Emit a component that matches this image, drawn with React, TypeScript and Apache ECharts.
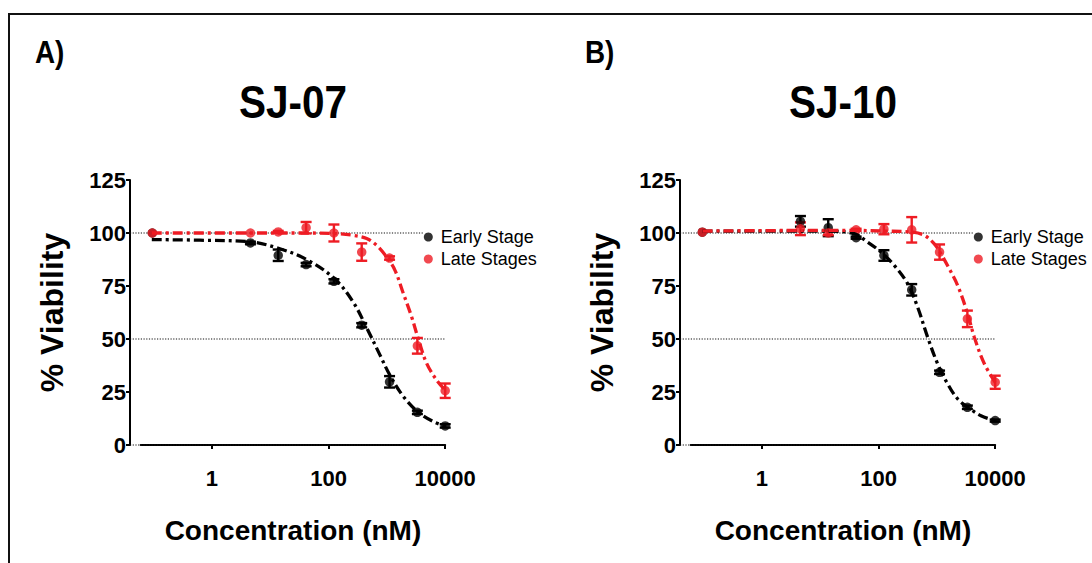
import React, { useEffect, useRef } from 'react';
import * as echarts from 'echarts';

// ---------- data ----------
const concentrations = [0.095, 4.57, 13.7, 41.2, 123.5, 370, 1111, 3333, 10000];
const xTickValues = [1, 100, 10000];
const referenceLines = [0, 50, 100];
const seriesNames = ['Early Stage', 'Late Stages'];

// SJ-07
const sj07EarlyMean = [100, 95.3, 89.5, 85.1, 77.2, 56.5, 29.8, 15.4, 9.0];
const sj07EarlyErr = [0, 0.6, 2.7, 0.8, 1.0, 1.0, 2.7, 0.8, 0.8];
const sj07LateMean = [100, 100, 100.5, 102.5, 100, 91, 88.2, 46.8, 25.6];
const sj07LateErr = [0, 0, 0.5, 2.7, 4.0, 4.1, 0.8, 3.7, 3.4];
const sj07EarlyFitX = [0.093, 0.62, 4.6, 13.8, 42, 126, 263, 447, 759, 1122, 1905, 3388, 6310, 10000];
const sj07EarlyFitY = [96.9, 96.6, 95.8, 92.8, 87.5, 78.5, 67.5, 55.5, 42.5, 33, 23, 15.7, 11, 8.9];
const sj07LateFitX = [0.093, 4.6, 42, 129, 265, 450, 668, 991, 1377, 1914, 2661, 3459, 4808, 7129, 10000];
const sj07LateFitY = [100, 100, 100, 99.7, 98.9, 97.4, 94.2, 88.7, 82.4, 71.5, 60.4, 50, 38.5, 30.6, 25.9];

// SJ-10
const sj10EarlyMean = [100.4, 105.5, 102.5, 97.8, 89.4, 73.2, 34.3, 17.8, 11.5];
const sj10EarlyErr = [0, 2.5, 4, 0.5, 2.5, 2.7, 0.8, 0.8, 0.5];
const sj10LateMean = [100.4, 102, 100, 101.5, 101.8, 101.5, 91, 59.5, 29.6];
const sj10LateErr = [0, 3, 1, 0.5, 2.4, 6, 3.6, 3.9, 3.1];
const sj10EarlyFitX = [0.096, 13.4, 38, 65, 110, 186, 315, 468, 695, 1030, 1531, 2275, 3373, 5702, 10000];
const sj10EarlyFitY = [100.9, 100.9, 99.7, 95.7, 91.0, 84.7, 76.1, 65.0, 50.8, 38.3, 28.8, 21.7, 17.8, 13.8, 11.5];
const sj10LateFitX = [0.096, 4.67, 41, 125, 385, 608, 903, 1175, 1633, 2275, 3373, 4385, 6516, 10000];
const sj10LateFitY = [100.9, 101.2, 101.2, 100.9, 100.4, 98.9, 94.9, 90.2, 83.1, 75.2, 61.9, 50.8, 38.3, 29.6];

const FONT = '"Liberation Sans", Arial, Helvetica, sans-serif';
const BLACK = '#000000';
const RED = '#ee1c24';

const panels = [
  {
    letter: 'A)', title: 'SJ-07', off: 0,
    earlyMean: sj07EarlyMean, earlyErr: sj07EarlyErr, lateMean: sj07LateMean, lateErr: sj07LateErr,
    earlyFitX: sj07EarlyFitX, earlyFitY: sj07EarlyFitY, lateFitX: sj07LateFitX, lateFitY: sj07LateFitY,
  },
  {
    letter: 'B)', title: 'SJ-10', off: 550,
    earlyMean: sj10EarlyMean, earlyErr: sj10EarlyErr, lateMean: sj10LateMean, lateErr: sj10LateErr,
    earlyFitX: sj10EarlyFitX, earlyFitY: sj10EarlyFitY, lateFitX: sj10LateFitX, lateFitY: sj10LateFitY,
  },
];

function zip(xs: number[], ys: number[]) {
  return xs.map((x, i) => [x, ys[i]]);
}

function errorSeries(xs: number[], means: number[], errs: number[], color: string, xi: number, yi: number) {
  const data: number[][] = [];
  xs.forEach((x, i) => {
    if (errs[i] > 0) data.push([x, means[i] - errs[i], means[i] + errs[i]]);
  });
  return {
    type: 'custom',
    xAxisIndex: xi,
    yAxisIndex: yi,
    silent: true,
    clip: false,
    encode: { x: 0, y: [1, 2] },
    data,
    renderItem: (_p: any, api: any) => {
      const lo = api.coord([api.value(0), api.value(1)]);
      const hi = api.coord([api.value(0), api.value(2)]);
      const w = 5.5;
      const st = { stroke: color, lineWidth: 2.4 };
      return {
        type: 'group',
        children: [
          { type: 'line', shape: { x1: lo[0], y1: lo[1], x2: hi[0], y2: hi[1] }, style: st },
          { type: 'line', shape: { x1: lo[0] - w, y1: lo[1], x2: lo[0] + w, y2: lo[1] }, style: st },
          { type: 'line', shape: { x1: hi[0] - w, y1: hi[1], x2: hi[0] + w, y2: hi[1] }, style: st },
        ],
      };
    },
  };
}

// dotted reference lines (0, 50, 100) spanning from the y axis to the right end of the plot
function refLineSeries(xi: number, yi: number) {
  return {
    type: 'custom',
    xAxisIndex: xi,
    yAxisIndex: yi,
    silent: true,
    clip: false,
    z: 1,
    encode: { y: 0 },
    data: referenceLines.map((v) => [v]),
    renderItem: (_p: any, api: any) => {
      const a = api.coord([0, api.value(0)]);
      const b = api.coord([1, api.value(0)]);
      return {
        type: 'line',
        shape: { x1: a[0], y1: a[1], x2: b[0], y2: b[1] },
        style: { stroke: '#111111', lineWidth: 1.2, lineDash: [1.2, 1.5] },
      };
    },
  };
}

function buildOption() {
  const grid: any[] = [];
  const xAxis: any[] = [];
  const yAxis: any[] = [];
  const series: any[] = [];
  const legend: any[] = [];
  const graphic: any[] = [
    {
      type: 'rect', shape: { x: 9, y: 14, width: 1200, height: 700 },
      style: { fill: 'none', stroke: '#111', lineWidth: 2 }, z: 0,
    },
  ];

  panels.forEach((p, k) => {
    const gA = k * 2;
    const gB = k * 2 + 1;
    // grid A: y axis + dotted reference lines
    grid.push({ left: 130 + p.off, top: 180, width: 315, height: 265 });
    // grid B: data + x axis
    grid.push({ left: 140.7 + p.off, top: 180, width: 304.5, height: 265 });

    xAxis.push({ gridIndex: gA, type: 'value', min: 0, max: 1, show: false });
    xAxis.push({
      gridIndex: gB, type: 'log', logBase: 10, min: 0.06, max: 10000,
      position: 'bottom', offset: 12,
      axisLine: { show: true, lineStyle: { color: BLACK, width: 2 } },
      axisTick: { show: true, length: 4, inside: false, lineStyle: { color: BLACK, width: 2 }, customValues: xTickValues },
      axisLabel: {
        customValues: xTickValues, margin: 10, color: BLACK, fontFamily: FONT, fontWeight: 'bold', fontSize: 22,
        formatter: (v: number) => String(Math.round(v)),
      },
      splitLine: { show: false }, minorTick: { show: false },
      name: 'Concentration (nM)', nameLocation: 'middle', nameGap: 59,
      nameTextStyle: { color: BLACK, fontFamily: FONT, fontWeight: 'bold', fontSize: 28 },
    });

    const yA = k * 2;
    const yB = k * 2 + 1;
    yAxis.push({
      gridIndex: gA, type: 'value', min: 0, max: 125, interval: 25, position: 'left',
      axisLine: { show: true, lineStyle: { color: BLACK, width: 2 } },
      axisTick: { show: true, length: 4, inside: false, lineStyle: { color: BLACK, width: 2 } },
      axisLabel: { margin: 4, color: BLACK, fontFamily: FONT, fontWeight: 'bold', fontSize: 22 },
      splitLine: { show: false },
      name: '% Viability', nameLocation: 'middle', nameGap: 62,
      nameTextStyle: { color: BLACK, fontFamily: FONT, fontWeight: 'bold', fontSize: 32 },
    });
    yAxis.push({ gridIndex: gB, type: 'value', min: 0, max: 125, show: false, splitLine: { show: false } });

    series.push(refLineSeries(gA, yA));

    const xi = gB;
    const lineStyleFor = (c: string) => ({ color: c, width: 3.3, type: [10, 4, 3, 4], cap: 'butt' });

    series.push({
      type: 'line', name: 'Early fit', xAxisIndex: xi, yAxisIndex: yB, data: zip(p.earlyFitX, p.earlyFitY),
      smooth: 0.35, showSymbol: false, symbol: 'none', lineStyle: lineStyleFor(BLACK), silent: true, clip: false,
    });
    series.push(errorSeries(concentrations, p.earlyMean, p.earlyErr, BLACK, xi, yB));
    series.push({
      type: 'scatter', name: seriesNames[0], xAxisIndex: xi, yAxisIndex: yB, data: zip(concentrations, p.earlyMean),
      symbol: 'circle', symbolSize: 9.5, itemStyle: { color: BLACK }, clip: false,
    });
    series.push({
      type: 'line', name: 'Late fit', xAxisIndex: xi, yAxisIndex: yB, data: zip(p.lateFitX, p.lateFitY),
      smooth: 0.35, showSymbol: false, symbol: 'none', lineStyle: lineStyleFor(RED), silent: true, clip: false,
    });
    series.push(errorSeries(concentrations, p.lateMean, p.lateErr, RED, xi, yB));
    series.push({
      type: 'scatter', name: seriesNames[1], xAxisIndex: xi, yAxisIndex: yB, data: zip(concentrations, p.lateMean),
      symbol: 'circle', symbolSize: 9.5, itemStyle: { color: RED }, clip: false,
    });

    legend.push({
      orient: 'vertical', left: 423.8 + p.off, top: 227, itemWidth: 9, itemHeight: 9, itemGap: 2,
      icon: 'circle', padding: 0, backgroundColor: '#ffffff', selectedMode: false,
      textStyle: { color: BLACK, fontFamily: FONT, fontSize: 18, lineHeight: 20, padding: [0, 0, 0, 3] },
      data: seriesNames,
    });

    graphic.push({
      type: 'text', x: 293 + p.off, y: 102, scaleX: 0.88,
      style: {
        text: p.title, font: 'bold 46px ' + FONT, fill: BLACK,
        align: 'center', verticalAlign: 'middle', textAlign: 'center', textVerticalAlign: 'middle',
      },
    });
    graphic.push({
      type: 'text', x: 35 + p.off, y: 52, scaleX: 0.87,
      style: {
        text: p.letter, font: 'bold 32px ' + FONT, fill: BLACK,
        align: 'left', verticalAlign: 'middle', textAlign: 'left', textVerticalAlign: 'middle',
      },
    });
  });

  return {
    animation: false,
    backgroundColor: '#ffffff',
    grid, xAxis, yAxis, series, legend, graphic,
  };
}

export default function App() {
  const ref = useRef<HTMLDivElement>(null);
  useEffect(() => {
    if (!ref.current) return;
    const chart = echarts.init(ref.current, undefined, { renderer: 'svg' });
    chart.setOption(buildOption() as any);
    return () => chart.dispose();
  }, []);
  return (
    <div
      ref={ref}
      style={{ position: 'fixed', left: 0, top: 0, width: 1092, height: 563, background: '#fff' }}
    />
  );
}
